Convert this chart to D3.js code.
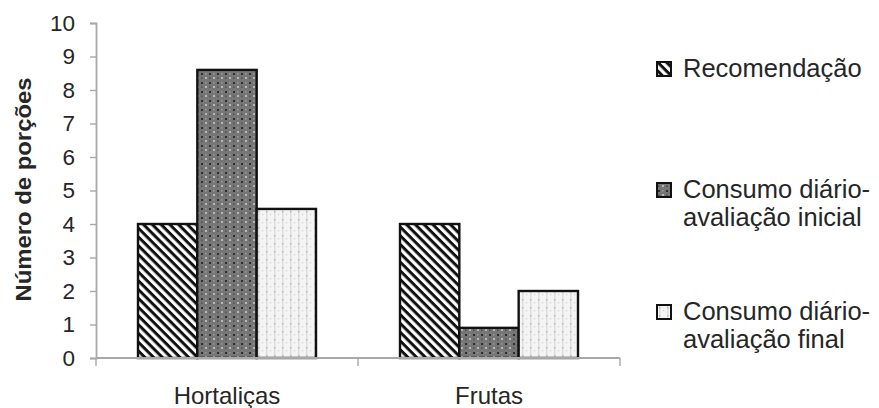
<!DOCTYPE html>
<html>
<head>
<meta charset="utf-8">
<script src="https://cdn.jsdelivr.net/npm/d3@7/dist/d3.min.js"></script>
<style>
  html, body { margin: 0; padding: 0; background: #fff; }
  svg { display: block; font-family: "Liberation Sans", Arial, sans-serif; }
</style>
</head>
<body>
<svg id="chart" width="879" height="408"></svg>
<script>
// Food groups on the x axis
const categories = ["Hortaliças", "Frutas"];
// Series (daily portions)
const seriesNames = ["Recomendação", "Consumo diário-avaliação inicial", "Consumo diário-avaliação final"];
const recomendacao = [4, 4];
const consumoInicial = [8.6, 0.9];
const consumoFinal = [4.45, 2];
const yTicks = [0, 1, 2, 3, 4, 5, 6, 7, 8, 9, 10];
const legendLines = [["Recomendação"], ["Consumo diário-", "avaliação inicial"], ["Consumo diário-", "avaliação final"]];

const series = [recomendacao, consumoInicial, consumoFinal];

const svg = d3.select("#chart");
const defs = svg.append("defs");
const FONT = "Liberation Sans, Arial, sans-serif";
const textColor = "#262626";

// Diagonal hatching (top-left to bottom-right)
const p1 = defs.append("pattern").attr("id", "pat0").attr("patternUnits", "userSpaceOnUse")
  .attr("width", 6.2).attr("height", 6.2).attr("patternTransform", "rotate(45)");
p1.append("rect").attr("width", 6.2).attr("height", 6.2).attr("fill", "#fff");
p1.append("rect").attr("width", 6.2).attr("height", 3).attr("fill", "#111");

// Dark dotted fill
const p2 = defs.append("pattern").attr("id", "pat1").attr("patternUnits", "userSpaceOnUse")
  .attr("width", 8).attr("height", 9);
p2.append("rect").attr("width", 8).attr("height", 9).attr("fill", "#767676");
p2.append("rect").attr("x", 1).attr("y", 1).attr("width", 2).attr("height", 2).attr("fill", "#2e2e2e");
p2.append("rect").attr("x", 5).attr("y", 5).attr("width", 2).attr("height", 2).attr("fill", "#b8b8b8");
p2.append("rect").attr("x", 5).attr("y", 1).attr("width", 1.5).attr("height", 1.5).attr("fill", "#9a9a9a");
p2.append("rect").attr("x", 1).attr("y", 5.5).attr("width", 1.5).attr("height", 1.5).attr("fill", "#4e4e4e");

// Light dotted fill
const p3 = defs.append("pattern").attr("id", "pat2").attr("patternUnits", "userSpaceOnUse")
  .attr("width", 8).attr("height", 8);
p3.append("rect").attr("width", 8).attr("height", 8).attr("fill", "#f4f4f4");
p3.append("rect").attr("x", 2).attr("y", 0).attr("width", 1.5).attr("height", 8).attr("fill", "#dddddd");
p3.append("rect").attr("x", 2).attr("y", 3).attr("width", 1.5).attr("height", 1.5).attr("fill", "#bdbdbd");
p3.append("rect").attr("x", 6).attr("y", 6).attr("width", 1.2).attr("height", 1.2).attr("fill", "#d0d0d0");

const fills = ["url(#pat0)", "url(#pat1)", "url(#pat2)"];

const x0 = 96, x1 = 620, yTop = 23, yBottom = 358;

const x = d3.scaleBand().domain(categories).range([x0, x1]).paddingInner(0).paddingOuter(0);
const y = d3.scaleLinear().domain([0, 10]).range([yBottom, yTop]);
const groupWidth = 178;
const xs = d3.scaleBand().domain(d3.range(series.length)).range([0, groupWidth]);

const axisColor = "#a8a8a8";

// Y axis
const yAxis = svg.append("g").attr("transform", `translate(${x0},0)`)
  .call(d3.axisLeft(y).tickValues(yTicks).tickSize(6).tickFormat(d3.format("d")));
yAxis.attr("font-size", null).attr("font-family", null);
yAxis.select(".domain").attr("stroke", axisColor).attr("stroke-width", 1.8);
yAxis.selectAll(".tick line").attr("stroke", axisColor).attr("stroke-width", 1.4);
yAxis.selectAll(".tick text")
  .attr("x", -21)
  .style("font-size", "22.5px").style("font-family", FONT).attr("fill", textColor);

// Bars
categories.forEach((cat, ci) => {
  const gx = x(cat) + (x.bandwidth() - groupWidth) / 2;
  series.forEach((vals, si) => {
    svg.append("rect")
      .attr("x", gx + xs(si))
      .attr("y", y(vals[ci]))
      .attr("width", xs.bandwidth())
      .attr("height", y(0) - y(vals[ci]))
      .attr("fill", fills[si])
      .attr("stroke", "#111")
      .attr("stroke-width", 2.4);
  });
});

// X axis
const xAxis = svg.append("g").attr("transform", `translate(0,${yBottom})`)
  .call(d3.axisBottom(x).tickSize(0).tickFormat(d => d));
xAxis.attr("font-size", null).attr("font-family", null);
xAxis.select(".domain").attr("stroke", axisColor).attr("stroke-width", 1.8).attr("d", `M${x0},0H${x1}`);
xAxis.selectAll(".tick text")
  .attr("y", 46).attr("dy", null)
  .style("font-size", "24px").style("font-family", FONT).attr("fill", textColor);
// Category boundary ticks
svg.append("g").selectAll("line").data(categories.concat(["end"])).join("line")
  .attr("x1", (d, i) => i < categories.length ? x(d) : x1)
  .attr("x2", (d, i) => i < categories.length ? x(d) : x1)
  .attr("y1", yBottom).attr("y2", yBottom + 8)
  .attr("stroke", axisColor).attr("stroke-width", 1.4);

// Y axis title
svg.append("text")
  .attr("transform", `translate(31,${(77 + 302) / 2}) rotate(-90)`)
  .attr("text-anchor", "middle")
  .style("font-size", "22px")
  .style("font-family", FONT)
  .attr("font-weight", "bold")
  .attr("fill", textColor)
  .attr("textLength", 224)
  .attr("lengthAdjust", "spacingAndGlyphs")
  .text("Número de porções");

// Legend
const legendBase = [77, 198, 320];
legendLines.forEach((lines, i) => {
  const g = svg.append("g").attr("transform", `translate(657,${legendBase[i]})`);
  g.append("rect").attr("x", 0).attr("y", -15).attr("width", 14).attr("height", 14)
    .attr("fill", fills[i]).attr("stroke", "#111").attr("stroke-width", 2);
  lines.forEach((t, li) => {
    g.append("text")
      .attr("x", 26)
      .attr("y", li * 28)
      .style("font-size", "25.5px")
      .style("font-family", FONT)
      .attr("fill", textColor)
      .text(t);
  });
});
</script>
</body>
</html>
